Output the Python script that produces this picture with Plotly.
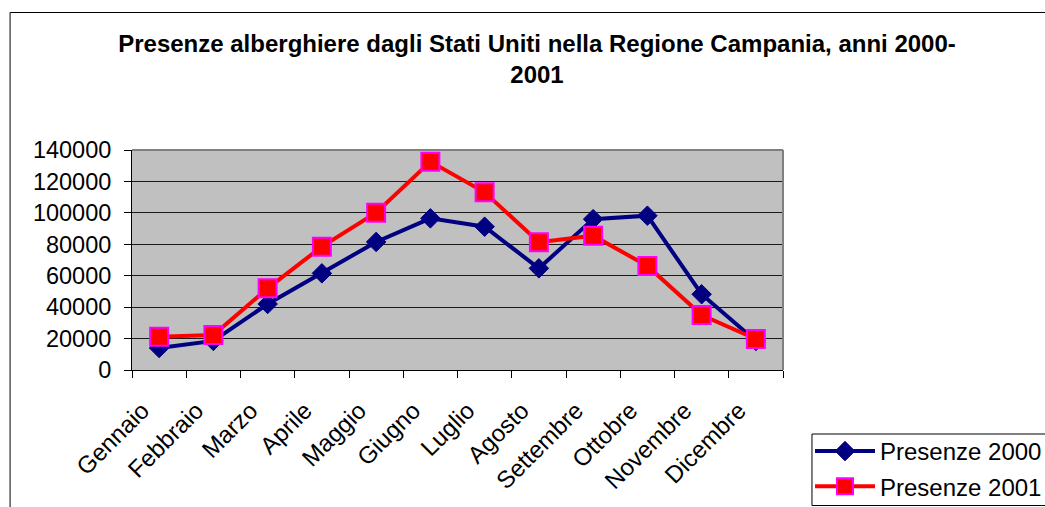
import plotly.graph_objects as go

months = ["Gennaio", "Febbraio", "Marzo", "Aprile", "Maggio", "Giugno",
          "Luglio", "Agosto", "Settembre", "Ottobre", "Novembre", "Dicembre"]
presenze_2000 = [14000, 18500, 42000, 61500, 81500, 96500,
                 91200, 64700, 96000, 98200, 48200, 18500]
presenze_2001 = [21200, 22300, 52000, 78500, 100100, 132600,
                 113100, 81300, 85500, 66200, 35000, 19700]
y_ticks = [0, 20000, 40000, 60000, 80000, 100000, 120000, 140000]

FONT = "Arial, 'Liberation Sans', sans-serif"
FS = 24
W, H = 1045, 507
L, R, T, B = 131.5, 783, 150, 370
PW, PH = R - L, B - T


def px(x):
    return (x - L) / PW


def py(y):
    return (B - y) / PH


fig = go.Figure()
fig.add_trace(go.Scatter(
    x=months, y=presenze_2000, name="Presenze 2000", mode="lines+markers",
    line=dict(color="#000080", width=4),
    marker=dict(symbol="diamond", size=15, color="#000080",
                line=dict(color="#000080", width=1)),
    legendgroup="a",
))
fig.add_trace(go.Scatter(
    x=months, y=presenze_2001, name="Presenze 2001", mode="lines+markers",
    line=dict(color="#FF0000", width=4),
    marker=dict(symbol="square", size=18, color="#FF0000",
                line=dict(color="#FF00FF", width=2)),
    legendgroup="b",
))

fig.update_layout(
    width=W, height=H,
    margin=dict(l=L, r=W - R, t=T, b=H - B, pad=0, autoexpand=False),
    paper_bgcolor="white",
    plot_bgcolor="#C0C0C0",
    font=dict(family=FONT, size=FS, color="black"),
    title=dict(
        text="<b>Presenze alberghiere dagli Stati Uniti nella Regione Campania, anni 2000-<br>2001</b>",
        x=537 / W, xanchor="center", xref="container",
        y=1 - 52 / H, yanchor="top", yref="container",
        font=dict(family=FONT, size=FS, color="black"),
    ),
    showlegend=True,
    legend=dict(
        xref="container", yref="container",
        x=810 / W, y=1 - 429 / H, xanchor="left", yanchor="top",
        bgcolor="rgba(0,0,0,0)", borderwidth=0,
        font=dict(family=FONT, size=FS, color="black"),
        itemwidth=60, tracegroupgap=1, traceorder="grouped",
    ),
    xaxis=dict(
        type="category", range=[-0.5, 11.5],
        tickangle=-45, tickson="boundaries", automargin=False,
        ticklabelshift=-17, ticklabelstandoff=16,
        ticks="outside", ticklen=7, tickcolor="black", tickwidth=1,
        showline=True, linecolor="black", linewidth=1,
        showgrid=False, zeroline=False,
        tickfont=dict(family=FONT, size=FS, color="black"),
        fixedrange=True,
    ),
    yaxis=dict(
        range=[0, 140000], tickvals=y_ticks, automargin=False,
        ticktext=[str(v) for v in y_ticks],
        ticklabelstandoff=8,
        ticks="outside", ticklen=7, tickcolor="black", tickwidth=1,
        showline=True, linecolor="black", linewidth=1,
        showgrid=True, gridcolor="#1a1a1a", gridwidth=1,
        zeroline=False,
        tickfont=dict(family=FONT, size=23.5, color="black"),
        fixedrange=True,
    ),
    shapes=[
        # outer chart border
        dict(type="rect", xref="paper", yref="paper",
             x0=px(9.5), x1=px(1100), y0=py(12.5), y1=py(600),
             line=dict(color="black", width=1), fillcolor="rgba(0,0,0,0)",
             layer="above"),
        # plot area top and right border (grey)
        dict(type="line", xref="paper", yref="paper",
             x0=0, x1=1, y0=1, y1=1, line=dict(color="#808080", width=2), layer="above"),
        dict(type="line", xref="paper", yref="paper",
             x0=1, x1=1, y0=0, y1=1, line=dict(color="#808080", width=2), layer="above"),
        # legend box
        dict(type="rect", xref="paper", yref="paper",
             x0=px(812), x1=px(1100), y0=py(505.5), y1=py(434),
             line=dict(color="black", width=1), fillcolor="rgba(0,0,0,0)",
             layer="above"),
    ],
)

fig.write_html("out.html", post_script="document.body.style.margin='0';",
               config={"displayModeBar": False})
